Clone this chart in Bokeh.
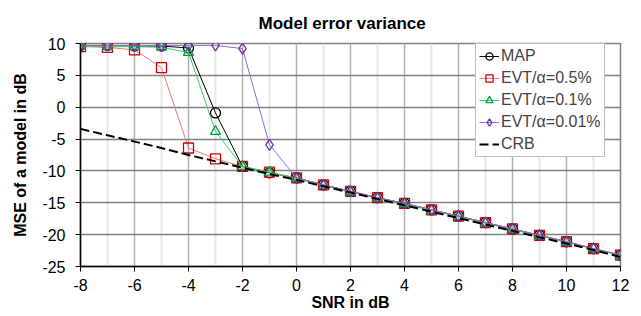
from bokeh.plotting import figure
from bokeh.models import FixedTicker, Legend, LegendItem
from bokeh.embed import file_html
from bokeh.resources import INLINE

snr = [-8, -7, -6, -5, -4, -3, -2, -1, 0, 1, 2, 3, 4, 5, 6, 7, 8, 9, 10, 11, 12]
mse_map = [9.7, 9.7, 9.6, 9.6, 9.3, -0.9, -9.3, -10.3, -11.1, -12.2, -13.2, -14.2, -15.1, -16.1, -17.1, -18.1, -19.1, -20.1, -21.1, -22.2, -23.2]
mse_evt05 = [9.5, 9.4, 9.0, 6.2, -6.4, -8.1, -9.3, -10.2, -11.1, -12.2, -13.2, -14.2, -15.1, -16.1, -17.1, -18.1, -19.1, -20.1, -21.1, -22.2, -23.2]
mse_evt01 = [9.6, 9.5, 9.5, 9.4, 8.6, -3.8, -9.3, -10.2, -11.2, -12.3, -13.3, -14.3, -15.2, -16.2, -17.2, -18.2, -19.2, -20.2, -21.2, -22.2, -23.3]
mse_evt001 = [9.7, 9.7, 9.7, 9.7, 9.7, 9.7, 9.2, -5.9, -11.1, -12.2, -13.2, -14.2, -15.1, -16.1, -17.1, -18.1, -19.1, -20.1, -21.1, -22.2, -23.2]
crb = [-3.4, -4.4, -5.4, -6.4, -7.5, -8.5, -9.5, -10.5, -11.4, -12.4, -13.4, -14.4, -15.4, -16.4, -17.4, -18.4, -19.4, -20.4, -21.4, -22.4, -23.5]

x_major = [-8, -6, -4, -2, 0, 2, 4, 6, 8, 10, 12]
x_minor = [-7, -5, -3, -1, 1, 3, 5, 7, 9, 11]
y_ticks = [-25, -20, -15, -10, -5, 0, 5, 10]

FONT = "Liberation Sans"

p = figure(width=633, height=316, output_backend="svg", toolbar_location=None,
           x_range=(-8, 12), y_range=(-25, 10),
           min_border_left=80, min_border_right=13, min_border_top=43, min_border_bottom=50,
           title="Model error variance")
p.title.align = "left"
p.title.offset = 178
p.title.standoff = 21
p.title.text_font = FONT
p.title.text_font_size = "17px"
p.title.text_font_style = "bold"
p.title.text_color = "black"

p.outline_line_color = "#808080"
p.outline_line_width = 1.5

p.xaxis.ticker = FixedTicker(ticks=x_major, minor_ticks=x_minor)
p.yaxis.ticker = FixedTicker(ticks=y_ticks)
p.xaxis.major_label_overrides = {v: str(v) for v in x_major}
p.yaxis.major_label_overrides = {v: str(v) for v in y_ticks}
for ax in (p.xaxis[0], p.yaxis[0]):
    ax.major_label_text_font = FONT
    ax.major_label_text_font_size = "16px"
    ax.major_label_text_color = "black"
    ax.axis_line_color = "black"
    ax.axis_line_width = 1.5
    ax.major_tick_line_color = "black"
    ax.major_tick_out = 5
    ax.major_tick_in = 0
    ax.minor_tick_line_color = None
    ax.axis_label_text_font = FONT
    ax.axis_label_text_font_size = "16px"
    ax.axis_label_text_font_style = "bold"
    ax.axis_label_text_color = "black"
p.xaxis.axis_label = "SNR in dB"
p.yaxis.axis_label = "MSE of a model in dB"
p.xaxis.major_label_standoff = 7
p.yaxis.major_label_standoff = 10
p.xaxis.axis_label_standoff = 0
p.yaxis.axis_label_standoff = 10

p.xgrid.grid_line_color = "#b0b0b0"
p.xgrid.grid_line_width = 1.5
p.xgrid.minor_grid_line_color = "#e6e6e6"
p.xgrid.minor_grid_line_width = 2
p.ygrid.grid_line_color = "#808080"
p.ygrid.grid_line_width = 1.5

series = [
    ("MAP", mse_map, "black", "black", "circle"),
    ("EVT/α=0.5%", mse_evt05, "#ee7777", "#cc0000", "square"),
    ("EVT/α=0.1%", mse_evt01, "#33cc66", "#00a040", "triangle"),
    ("EVT/α=0.01%", mse_evt001, "#9966cc", "#7030a0", "diamond"),
]
items = []
for name, ys, lc, mc, mk in series:
    r1 = p.line(snr, ys, line_color=lc, line_width=1)
    r2 = p.scatter(snr, ys, marker=mk, size=10 if mk != "diamond" else 11,
                   line_color=mc, fill_color=None, line_width=1.3)
    items.append(LegendItem(label=name, renderers=[r1, r2]))

rc = p.line(snr, crb, line_color="black", line_width=2, line_dash="9 4")
items.append(LegendItem(label="CRB", renderers=[rc]))

legend = Legend(items=items, location=(395, 109))
legend.label_text_font = FONT
legend.label_text_font_size = "16px"
legend.label_height = 18
legend.glyph_height = 18
legend.glyph_width = 20
legend.spacing = 4
legend.padding = 3
legend.margin = 0
legend.label_standoff = 2
legend.border_line_color = "#808080"
legend.border_line_width = 1
legend.background_fill_alpha = 1
p.add_layout(legend, "center")

open("out.html", "w").write(file_html(p, INLINE))
